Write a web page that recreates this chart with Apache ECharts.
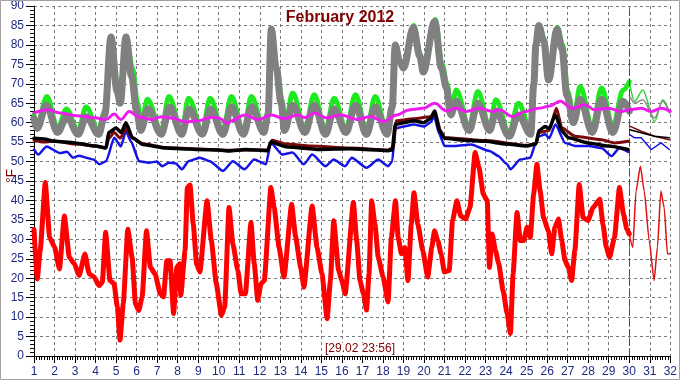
<!DOCTYPE html>
<html>
<head>
<meta charset="utf-8">
<script src="https://cdn.jsdelivr.net/npm/echarts@6/dist/echarts.min.js"></script>
<style>
html,body{margin:0;padding:0;background:#fff;}
#chart{width:680px;height:380px;}
</style>
</head>
<body>
<div id="chart"></div>
<script>
// ---- data: [day, °F] ----
const titleText = 'February 2012';
const stampText = '[29.02 23:56]';
const yUnit = '°F';
const markerDay = 30;

const outdoor = [[1.0,32.5],[1.16,19.8],[1.3,27],[1.55,44.6],[1.76,30.5],[2.0,28],[2.24,22.4],[2.48,36],[2.72,25.4],[2.96,23.7],[3.2,20.7],[3.48,26.2],[3.69,21.1],[3.93,20.3],[4.17,18.1],[4.33,19],[4.49,31.8],[4.7,19.4],[4.9,18.6],[5.06,12.6],[5.19,4.1],[5.35,13.5],[5.57,32.6],[5.78,25.4],[5.94,13.5],[6.1,11.7],[6.27,15.2],[6.48,32.2],[6.67,22.8],[6.9,21.1],[7.15,16],[7.31,15.2],[7.47,24.5],[7.63,24.5],[7.8,10.9],[7.96,22.8],[8.09,23.7],[8.15,15.6],[8.36,27.1],[8.47,43.3],[8.6,44],[8.76,33.9],[8.92,23.7],[9.08,21.6],[9.43,39.9],[9.64,29.7],[9.88,18.6],[10.13,10.5],[10.29,12.6],[10.5,38.2],[10.69,28.8],[10.93,22],[11.09,16],[11.3,16],[11.57,34.3],[11.73,23.7],[11.9,14.3],[12.06,18.6],[12.22,19.4],[12.54,43.3],[12.7,38.2],[12.94,27.9],[13.18,20.3],[13.55,39],[13.75,30.5],[13.99,22.8],[14.15,17.7],[14.55,38.6],[14.79,27.9],[15.03,21.1],[15.28,9.6],[15.44,19.4],[15.6,34.8],[15.84,22],[16.0,19.4],[16.16,16],[16.56,39.5],[16.72,29.7],[16.88,19.4],[17.05,16],[17.2,11.8],[17.32,21.1],[17.45,39.9],[17.61,33.9],[17.77,25.4],[18.01,20.3],[18.25,13.9],[18.41,30.5],[18.61,39.9],[18.74,30.5],[18.9,26.3],[19.06,27.9],[19.22,19.4],[19.38,33.9],[19.51,42],[19.7,33.9],[19.94,27.1],[20.18,20.3],[20.38,27.9],[20.51,32.2],[20.67,29.7],[20.83,26.3],[20.99,21.6],[21.23,22],[21.39,34.8],[21.6,39.9],[21.79,36],[22.03,35.2],[22.24,38.2],[22.49,52.3],[22.68,48.4],[22.89,41.6],[23.08,39.9],[23.19,22.8],[23.32,31.4],[23.48,27.1],[23.64,23.7],[23.85,16.9],[24.05,10.9],[24.21,5.8],[24.34,21.1],[24.53,36.9],[24.69,29.7],[24.86,29.7],[25.02,33.1],[25.18,30.5],[25.34,41.6],[25.5,49.3],[25.66,42.4],[25.82,35.6],[26.06,32.2],[26.22,26.3],[26.38,33.1],[26.55,35.2],[26.71,29.7],[26.87,24.5],[27.03,22.8],[27.19,19.4],[27.35,27.1],[27.56,44.1],[27.75,35.6],[27.99,34.8],[28.24,38.2],[28.56,40.3],[28.72,33.9],[28.88,27.9],[29.04,25.4],[29.28,30.5],[29.52,43.3],[29.72,36.5],[29.88,32.6],[30.0,31.4]];
const outdoorNext = [[30.0,31.4],[30.17,27.9],[30.33,42.4],[30.54,48.8],[30.73,42.4],[30.97,29.7],[31.21,19.4],[31.37,27.9],[31.54,42.4],[31.7,38.2],[31.86,26.3],[31.96,26.3]];

const greenTemp = [[1.0,62],[1.15,59.5],[1.63,66.7],[2.15,58.5],[2.58,63.5],[3.15,58],[3.54,64],[4.15,58],[4.45,63],[4.78,82],[5.08,69],[5.22,66],[5.5,82],[5.8,74],[6.05,65],[6.22,59],[6.52,66],[7.2,58],[7.57,66.7],[8.2,58],[8.53,66.3],[9.2,58],[9.58,66.3],[10.2,58],[10.62,66.7],[11.2,58],[11.59,66.7],[12.2,58.5],[12.42,63],[12.58,84],[12.84,74],[13.08,66],[13.22,59],[13.6,67.6],[14.2,58.5],[14.65,67.2],[15.2,58],[15.62,66.3],[16.2,58.5],[16.66,67.2],[17.2,58],[17.62,66.7],[18.2,58],[18.47,65],[18.62,80],[18.82,76],[19.02,74],[19.5,85],[19.82,77.5],[19.98,74],[20.55,86.5],[20.88,75],[21.12,70],[21.32,63],[21.57,68.4],[22.2,59],[22.62,68],[23.2,59],[23.5,65.9],[24.15,57.5],[24.6,65],[25.2,58],[25.37,71],[25.47,80],[25.61,85],[25.86,81.5],[26.1,72],[26.5,84.5],[26.75,80],[27.0,68],[27.3,61],[27.6,69.3],[28.2,59],[28.65,68.9],[29.2,59],[29.7,68.4],[30.0,70.5]];
const greenNext = [[30.0,70.5],[30.26,65.5],[30.66,68.4],[31.23,60.3],[31.63,65.9],[31.95,62.9]];

const grayTemp = [[1.0,61],[1.15,58.5],[1.6,64.5],[2.15,57.5],[2.6,61.5],[3.15,57],[3.55,61.5],[4.15,57],[4.45,62],[4.75,82],[5.05,68],[5.2,65],[5.48,82],[5.75,72],[6.0,63],[6.2,58],[6.55,63.5],[7.2,57],[7.6,64],[8.2,57],[8.55,63.5],[9.2,57],[9.6,63.5],[10.2,57],[10.62,64],[11.2,57],[11.6,64],[12.2,57.5],[12.4,62],[12.56,84],[12.8,74],[13.04,65],[13.2,58],[13.6,64.5],[14.2,57.5],[14.65,64.5],[15.2,57],[15.62,63.5],[16.2,57.5],[16.66,64.5],[17.2,57],[17.62,64],[18.2,57],[18.45,64],[18.6,80],[18.8,76],[19.0,74],[19.48,84.5],[19.8,77],[19.96,73],[20.52,86],[20.85,74],[21.09,69],[21.3,62],[21.57,65.5],[22.2,58],[22.62,65],[23.2,58],[23.5,63],[24.15,56.5],[24.6,62],[25.2,57],[25.35,70],[25.45,80],[25.59,85],[25.83,81],[26.07,71],[26.48,84],[26.72,79],[26.96,67],[27.28,60],[27.6,66],[28.2,57.5],[28.65,66],[29.2,57.5],[29.7,65.5],[30.0,63]];
const grayNext = [[30.0,67],[30.26,65],[30.66,65.9],[31.23,61.2],[31.63,65.5],[31.95,62.5]];

const magentaTemp = [[1.0,62.5],[1.69,63.3],[2.26,62.5],[3.06,61.8],[4.03,61.2],[4.51,60.8],[4.91,62.2],[5.23,60.8],[5.64,62.9],[6.12,61.4],[6.76,60.8],[7.2,61.5],[7.73,61.2],[8.37,60.2],[9.02,60.5],[9.66,61.4],[9.98,61.2],[10.46,59.9],[10.62,60.5],[11.27,62],[11.91,60.8],[12.56,62],[13.2,61],[13.84,62],[14.2,61.3],[14.65,62.5],[15.29,61.2],[15.94,62],[16.74,60.8],[17.38,61.6],[18.03,60.3],[18.67,62],[19.31,63.3],[19.96,63.7],[20.52,65],[21.09,63],[21.57,63.7],[22.05,62.9],[22.7,63.7],[23.34,62.9],[23.66,63.3],[24.31,61.6],[24.95,62.9],[25.59,63.7],[26.07,64.2],[26.64,65.5],[27.2,63.7],[27.85,64.6],[28.33,63.3],[28.97,63.7],[29.62,62.9],[30.02,63.3],[30.58,63.7],[31.07,62.9],[31.55,63.7],[32.0,62.9]];

const blackTemp = [[1.0,56],[1.5,55.8],[2.0,55.2],[3.0,54.8],[4.0,54],[4.5,53.5],[4.65,57.5],[5.0,58.6],[5.25,57.5],[5.48,60],[5.8,56.1],[6.3,54.4],[7.4,53.5],[8.5,53.2],[9.0,53.1],[10.0,53],[10.5,52.7],[11.3,53.1],[12.38,52.8],[12.54,55],[13.27,53.8],[14.0,53.5],[14.87,53.1],[16.4,53.3],[17.13,53.1],[18.25,52.8],[18.45,53],[18.6,59.5],[19.0,60],[19.5,60.5],[20.0,60],[20.3,61],[20.52,63],[20.75,58],[21.0,56],[22.0,55.5],[23.0,55.2],[24.0,54.5],[25.0,54],[25.45,54.5],[25.6,58],[25.9,59],[26.1,58.5],[26.4,62],[26.72,57.8],[27.04,56.1],[28.01,54.8],[28.98,54],[29.94,53.1]];
const blackNext = [[30.02,58.2],[30.58,57.4],[31.23,56.5],[31.95,56.1]];

const blueTemp = [[1.0,53.1],[1.21,51.8],[1.61,53.9],[2.26,52.2],[2.6,52.5],[2.9,51],[3.2,51.5],[3.54,51],[3.9,50.5],[4.19,49.3],[4.51,50.1],[4.91,56.1],[5.23,53.9],[5.48,57.8],[5.72,55.2],[6.12,50.1],[6.6,49.7],[7.0,50],[7.24,48.8],[7.57,49.7],[7.9,49.5],[8.21,48],[8.53,50.1],[9.08,51],[9.56,50.1],[10.21,47.6],[10.69,50.1],[11.25,48],[11.73,50.5],[12.3,49.3],[12.54,54.8],[13.1,51.8],[13.59,52.3],[14.15,49.3],[14.55,51.8],[15.2,48.8],[15.6,50.5],[16.16,48.8],[16.48,51],[17.2,48.4],[17.77,50.5],[18.25,48.8],[18.45,50],[18.6,58.5],[19.0,59],[19.5,59.5],[20.0,59],[20.3,60],[20.5,61.5],[20.75,57],[21.0,54],[21.5,54],[22.28,54.4],[23.2,52.7],[23.6,51.5],[24.05,49.3],[24.21,48],[24.69,50.5],[25.18,51],[25.42,54.4],[25.6,56.5],[25.9,57],[26.1,56],[26.4,59.5],[26.88,54.8],[27.37,54],[28.01,54],[28.65,53.5],[29.14,51.4],[29.52,53.5],[29.94,52.5]];
const blueNext = [[30.02,56.9],[30.26,56.1],[30.58,56.1],[31.07,53.1],[31.55,54.8],[31.95,53.1]];

const brownTemp = [[1.0,55.5],[1.5,55],[2.0,55.3],[3.0,54.5],[4.0,54],[4.5,53.5],[4.65,56],[4.9,57.5],[5.2,56],[5.48,58.5],[5.8,56],[6.3,54.6],[7.4,53.6],[9,53.2],[10.5,52.9],[12.38,53],[12.6,55.5],[13.3,54.5],[14.5,54],[16.4,53.5],[18.25,53],[18.5,53.5],[18.65,60.5],[19.5,61],[20.3,61.5],[20.55,62.5],[20.8,58],[21.0,56.2],[23,55.4],[25,54.2],[25.45,54.5],[25.6,57.5],[26.1,58],[26.45,63.7],[26.72,58.6],[27.37,56.5],[28.65,55.6],[29.3,54.8],[29.94,55.2]];
const brownNext = [[30.02,59.1],[30.58,57.8],[31.23,56.5],[31.95,55.6]];

// ---- chart ----
const FONT = 'Liberation Sans, Arial, sans-serif';
const LABEL = '#1f2a80';
const DARKRED = '#800000';

function line(name, data, color, width, z, smooth) {
  return { name, type: 'line', data, showSymbol: false, symbol: 'none',
    smooth: smooth || false, smoothMonotone: 'x',
    z: z, lineStyle: { color, width, join: 'round', cap: 'round' }, silent: true };
}

const chart = echarts.init(document.getElementById('chart'), null, { renderer: 'canvas' });
chart.setOption({
  animation: false,
  backgroundColor: '#ffffff',
  grid: { left: 34, right: 4, top: 4, bottom: 24, show: false },
  xAxis: {
    type: 'value', min: 1, max: 32, interval: 1,
    axisLine: { show: true, onZero: false, lineStyle: { color: '#000', width: 1 } },
    axisTick: { show: true, length: 7, lineStyle: { color: '#000' } },
    minorTick: { show: true, splitNumber: 8, length: 4, lineStyle: { color: '#000' } },
    axisLabel: { color: LABEL, fontFamily: FONT, fontSize: 12, margin: 10 },
    splitLine: { show: true, lineStyle: { color: '#7a7a7a', type: [3, 3], width: 1 } }
  },
  yAxis: {
    type: 'value', min: 0, max: 90, interval: 5,
    axisLine: { show: true, onZero: false, lineStyle: { color: '#000', width: 1 } },
    axisTick: { show: true, length: 8, lineStyle: { color: '#000' } },
    minorTick: { show: true, splitNumber: 5, length: 4, lineStyle: { color: '#000' } },
    axisLabel: { color: LABEL, fontFamily: FONT, fontSize: 12, margin: 10 },
    splitLine: { show: true, lineStyle: { color: '#7a7a7a', type: [3, 3], width: 1 } }
  },
  graphic: [
    { type: 'rect', z: 100, silent: true, shape: { x: 0.5, y: 0.5, width: 679, height: 379 },
      style: { fill: null, stroke: '#a0a0a0', lineWidth: 1 } },
    { type: 'text', z: 100, left: 'center', top: 10,
      style: { text: titleText, fill: DARKRED, font: 'bold 16px ' + FONT } },
    { type: 'text', z: 100, x: 5, y: 176, rotation: Math.PI / 2, originX: 0, originY: 0,
      style: { text: yUnit, fill: DARKRED, font: '14px ' + FONT, align: 'center', verticalAlign: 'top' } },
    { type: 'text', z: 100, x: 360, y: 349,
      style: { text: stampText, fill: DARKRED, font: '12px ' + FONT, align: 'center', verticalAlign: 'middle',
        backgroundColor: '#ffffff', padding: [0, 1] } }
  ],
  series: [
    line('green', greenTemp, '#1ee81e', 5, 2, 0.35),
    line('gray', grayTemp, '#808080', 7, 3, 0.35),
    line('greenNext', greenNext, '#2fd12f', 1.5, 3, 0.3),
    line('grayNext', grayNext, '#8c8c8c', 1.5, 3, 0.3),
    line('magenta', magentaTemp, '#ee1cee', 3, 4, 0.4),
    line('blue', blueTemp, '#1414e6', 2.5, 5, 0.2),
    line('blueNext', blueNext, '#1414e6', 1.5, 5),
    line('brown', brownTemp, '#7a0a0a', 3, 6, 0.2),
    line('brownNext', brownNext, '#7a0a0a', 1.5, 6),
    line('black', blackTemp, '#000000', 3.5, 7, 0.2),
    line('blackNext', blackNext, '#000000', 1.5, 7),
    line('outdoor', outdoor, '#ff0000', 5, 8, 0.15),
    Object.assign(line('outdoorNext', outdoorNext, '#dd1111', 1.5, 8, 0.2), {
      markLine: { silent: true, symbol: ['none', 'none'], label: { show: false },
        lineStyle: { color: '#0a7a0a', type: [7, 3], width: 1 },
        data: [{ xAxis: markerDay }] }
    })
  ]
});
</script>
</body>
</html>
